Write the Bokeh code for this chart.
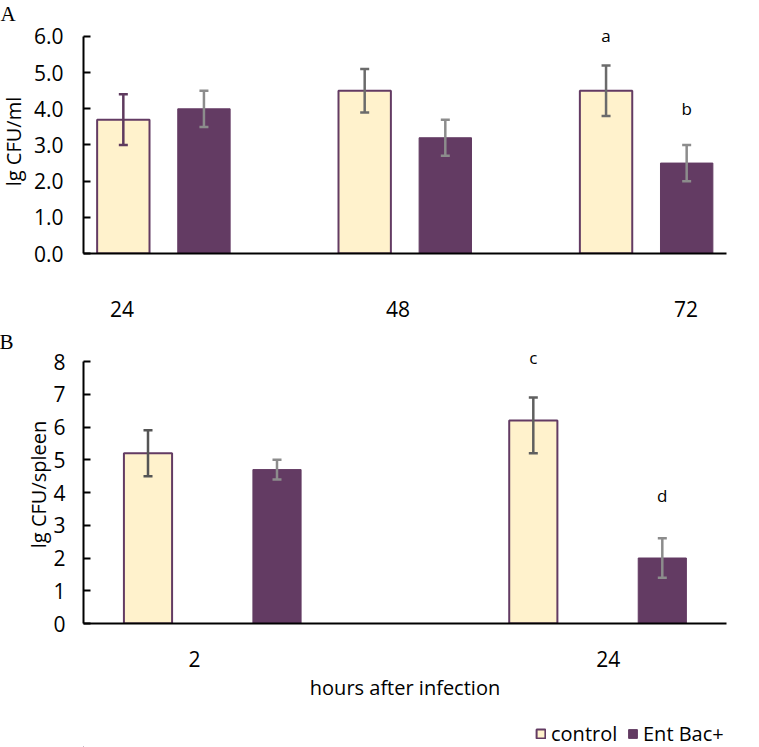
from bokeh.plotting import figure
from bokeh.layouts import column
from bokeh.models import ColumnDataSource, FixedTicker, Legend, LegendItem, Title
from bokeh.core.properties import value
from bokeh.embed import file_html
from bokeh.resources import INLINE

# ---------------- data ----------------
# Panel A
a_times = ["24", "48", "72"]
a_control = [3.7, 4.5, 4.5]
a_control_lo = [0.7, 0.6, 0.7]
a_control_hi = [0.7, 0.6, 0.7]
a_ent = [4.0, 3.2, 2.5]
a_ent_lo = [0.5, 0.5, 0.5]
a_ent_hi = [0.5, 0.5, 0.5]
a_control_letters = ["", "", "a"]
a_ent_letters = ["", "", "b"]
a_yticks = [0, 1, 2, 3, 4, 5, 6]

# Panel B
b_times = ["2", "24"]
b_control = [5.2, 6.2]
b_control_lo = [0.7, 1.0]
b_control_hi = [0.7, 0.7]
b_ent = [4.7, 2.0]
b_ent_lo = [0.3, 0.6]
b_ent_hi = [0.3, 0.6]
b_control_letters = ["", "c"]
b_ent_letters = ["", "d"]
b_yticks = [0, 1, 2, 3, 4, 5, 6, 7, 8]

series_names = ["control", "Ent Bac+"]

# ---------------- style ----------------
CREAM = "#FFF2CC"
PURPLE = "#633B63"
FONT = "Open Sans"
SERIF = "Liberation Serif"


def style_axes(p, ylabel, xlabel, ybounds, xlabel_standoff, ytick_standoff,
               ylab_standoff, xaxis_label_standoff):
    p.outline_line_color = None
    p.xgrid.visible = False
    p.ygrid.visible = False
    for ax in (p.xaxis[0], p.yaxis[0]):
        ax.axis_line_color = "black"
        ax.axis_line_width = 2
        ax.minor_tick_line_color = None
        ax.major_label_text_font = FONT
        ax.major_label_text_color = "black"
        ax.axis_label_text_font = FONT
        ax.axis_label_text_font_style = "normal"
        ax.axis_label_text_color = "black"
        ax.axis_label_text_font_size = "20px"
    ya = p.yaxis[0]
    ya.bounds = ybounds
    ya.major_tick_in = 7
    ya.major_tick_out = 0
    ya.major_tick_line_width = 2
    ya.major_tick_line_color = "black"
    ya.major_label_text_font_size = "21px"
    ya.major_label_standoff = ytick_standoff
    ya.axis_label = ylabel
    ya.axis_label_standoff = ylab_standoff
    xa = p.xaxis[0]
    xa.major_tick_in = 0
    xa.major_tick_out = 0
    xa.major_label_text_font_size = "21px"
    xa.major_label_standoff = xlabel_standoff
    if xlabel:
        xa.axis_label = xlabel
        xa.axis_label_standoff = xaxis_label_standoff


def draw_panel(p, n, ctrl, ctrl_lo, ctrl_hi, ent, ent_lo, ent_hi,
               dodge, bar_w, ctrl_err_cols, ent_err_cols,
               ctrl_letters, ent_letters, ctrl_let_off, ent_let_off):
    xs_c = [i - dodge for i in range(n)]
    xs_e = [i + dodge for i in range(n)]
    src_c = ColumnDataSource(dict(
        x=xs_c, top=ctrl,
        lo=[v - e for v, e in zip(ctrl, ctrl_lo)],
        hi=[v + e for v, e in zip(ctrl, ctrl_hi)],
        col=ctrl_err_cols, letter=ctrl_letters, yoff=ctrl_let_off))
    src_e = ColumnDataSource(dict(
        x=xs_e, top=ent,
        lo=[v - e for v, e in zip(ent, ent_lo)],
        hi=[v + e for v, e in zip(ent, ent_hi)],
        col=ent_err_cols, letter=ent_letters, yoff=ent_let_off))
    p.vbar(x="x", top="top", bottom=0, width=bar_w, source=src_c,
           fill_color=CREAM, line_color=PURPLE, line_width=2)
    p.vbar(x="x", top="top", bottom=0, width=bar_w, source=src_e,
           fill_color=PURPLE, line_color=PURPLE, line_width=1)
    for src in (src_c, src_e):
        p.segment(x0="x", y0="lo", x1="x", y1="hi", source=src,
                  line_color="col", line_width=2.5)
        p.scatter(x="x", y="hi", marker="dash", size=9, source=src,
                  line_color="col", line_width=2.5)
        p.scatter(x="x", y="lo", marker="dash", size=9, source=src,
                  line_color="col", line_width=2.5)
        p.text(x="x", y="hi", text="letter", source=src, y_offset="yoff",
               text_align="center", text_baseline="middle",
               text_font=value(FONT), text_font_size="17px", text_color="black")
    return src_c, src_e


def panel_title(text, offset, standoff, valign):
    return Title(text=text, align="left", offset=offset, standoff=standoff,
                 text_font=SERIF, text_font_size="21px", text_font_style="normal",
                 text_color="black", vertical_align=valign)


# ---------------- panel A ----------------
nA = len(a_times)
pA = figure(width=759, height=330, x_range=(-0.332, 2.332), y_range=(0, 6.193),
            output_backend="svg", toolbar_location=None,
            min_border_left=84, min_border_right=25, min_border_top=28,
            min_border_bottom=77)
pA.title = panel_title("A", -83, 3, "top")
draw_panel(pA, nA, a_control, a_control_lo, a_control_hi,
           a_ent, a_ent_lo, a_ent_hi, 0.167, 0.217,
           ["#5E3A5E", "#6B6B6B", "#6B6B6B"], ["#8C8C8C"] * 3,
           a_control_letters, a_ent_letters, [0, 0, -30], [0, 0, -36])
style_axes(pA, "lg CFU/ml", None, (0, 6), 47, 20, 4, 0)
pA.yaxis[0].ticker = FixedTicker(ticks=a_yticks)
pA.yaxis[0].major_label_overrides = {t: f"{t:.1f}" for t in a_yticks}
a_label_pos = [-0.172, 0.971, 2.164]
pA.xaxis[0].ticker = FixedTicker(ticks=a_label_pos)
pA.xaxis[0].major_label_overrides = {pos: t for pos, t in zip(a_label_pos, a_times)}

# ---------------- panel B ----------------
nB = len(b_times)
pB = figure(width=759, height=390, x_range=(-0.3348, 1.334), y_range=(0, 8.489),
            output_backend="svg", toolbar_location=None,
            min_border_left=91, min_border_right=0, min_border_top=15,
            min_border_bottom=97)
pB.title = panel_title("B", -84, -17, "bottom")
srcBc, srcBe = draw_panel(pB, nB, b_control, b_control_lo, b_control_hi,
                          b_ent, b_ent_lo, b_ent_hi, 0.1674, 0.125,
                          ["#555555", "#5F5F5F"], ["#8C8C8C"] * 2,
                          b_control_letters, b_ent_letters, [0, -40], [0, -43])
style_axes(pB, "lg CFU/spleen", "hours after infection", (0, 8), 27, 18, -2, 4)
pB.yaxis[0].ticker = FixedTicker(ticks=b_yticks)
b_label_pos = [-0.047, 1.027]
pB.xaxis[0].ticker = FixedTicker(ticks=b_label_pos)
pB.xaxis[0].major_label_overrides = {pos: t for pos, t in zip(b_label_pos, b_times)}

# ---------------- legend strip ----------------
# legend proxies reuse panel B's sources; the strip's ranges keep them off-view
pL = figure(width=759, height=27, x_range=(50, 51), y_range=(50, 51),
            x_axis_type=None, y_axis_type=None, output_backend="svg",
            toolbar_location=None, min_border=0)
pL.outline_line_color = None
pL.xgrid.visible = False
pL.ygrid.visible = False
rcL = pL.vbar(x="x", top="top", width=0.1, source=srcBc,
              fill_color=CREAM, line_color=PURPLE, line_width=2)
reL = pL.vbar(x="x", top="top", width=0.1, source=srcBe,
              fill_color=PURPLE, line_color=PURPLE, line_width=1)
legend_style = dict(orientation="horizontal", border_line_color=None,
                    background_fill_alpha=0, glyph_width=11, glyph_height=11,
                    label_standoff=5, spacing=0, padding=0, margin=0,
                    label_text_font=FONT, label_text_font_size="20px",
                    label_text_color="black", label_height=11)
legend1 = Legend(items=[LegendItem(label=series_names[0], renderers=[rcL], index=0)],
                 location=(452, 0), label_width=70, **legend_style)
legend2 = Legend(items=[LegendItem(label=series_names[1], renderers=[reL], index=0)],
                 location=(544, 0), label_width=90, **legend_style)
pL.add_layout(legend1, "center")
pL.add_layout(legend2, "center")

layout = column(pA, pB, pL, styles={"margin": "0px -8px"})
open("out.html", "w").write(file_html(layout, INLINE))
